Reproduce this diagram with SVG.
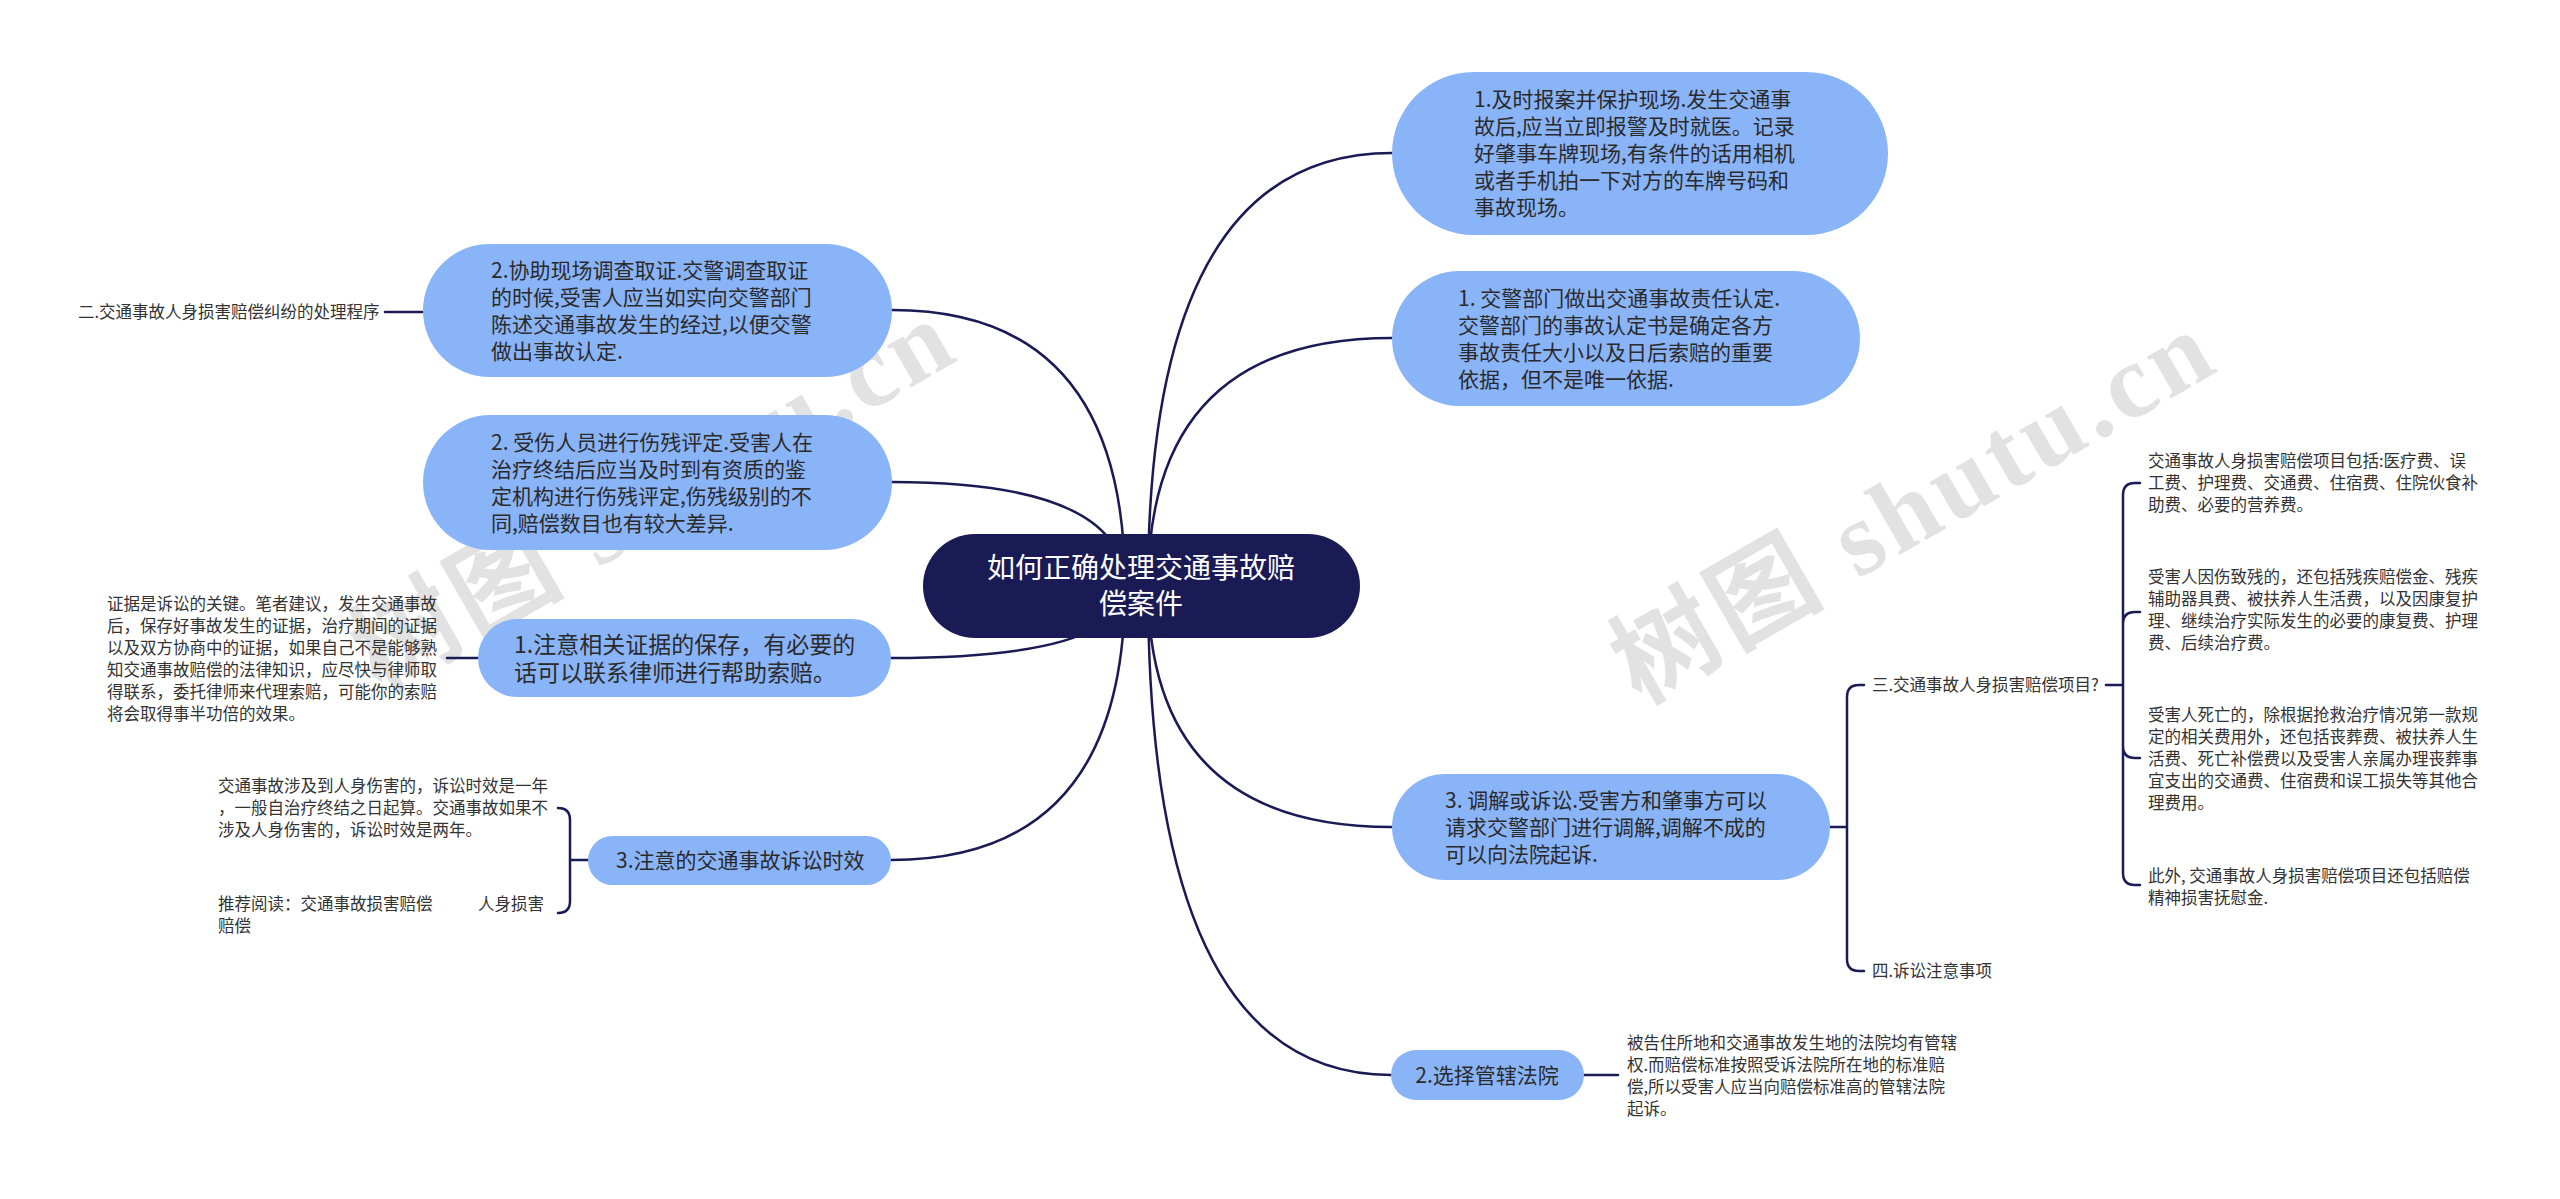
<svg xmlns="http://www.w3.org/2000/svg" width="2560" height="1199" viewBox="0 0 2560 1199">
<style>
.bg{fill:#ffffff}
.wm{font-family:"Liberation Serif","Noto Sans CJK SC",serif;font-weight:bold;font-size:105px;fill:#e2e2e2;letter-spacing:5px}
.root{fill:#1a1a54}
.node{fill:#8ab4f8}
.rt{font-family:"Noto Sans CJK SC","Noto Sans",sans-serif;font-size:28px;fill:#ffffff}
.nt{font-family:"Noto Sans CJK SC","Noto Sans",sans-serif;font-size:21px;fill:#2a2a2a}
.nt23{font-family:"Noto Sans CJK SC","Noto Sans",sans-serif;font-size:23px;fill:#2a2a2a}
.st{font-family:"Noto Sans CJK SC","Noto Sans",sans-serif;font-size:16.5px;fill:#333333}
.ln{fill:none;stroke:#1a1a54;stroke-width:2.5;stroke-linecap:round}
</style>
<rect class="bg" x="0" y="0" width="2560" height="1199"/>
<g id="watermarks">
<text class="wm" transform="translate(380,694) rotate(-30)">树图 shutu.cn</text>
<text class="wm" transform="translate(1640,705) rotate(-30)">树图 shutu.cn</text>
</g>
<g id="connectors">
<path class="ln" d="M1148 586 Q1148 153 1392 153"/>
<path class="ln" d="M1148 586 Q1148 338 1392 338"/>
<path class="ln" d="M1148 586 Q1148 827 1392 827"/>
<path class="ln" d="M1148 586 Q1148 1075 1391 1075"/>
<path class="ln" d="M1125 586 Q1125 310 892 310"/>
<path class="ln" d="M1125 586 Q1125 482 892 482"/>
<path class="ln" d="M1125 586 Q1125 658 891 658"/>
<path class="ln" d="M1125 586 Q1125 860 891 860"/>
<path class="ln" d="M385 312 L423 312"/>
<path class="ln" d="M447 658 L478 658"/>
<path class="ln" d="M588 860 L570 860 M570 860 L570 820 Q570 808 558 808 M570 860 L570 901 Q570 913 558 913"/>
<path class="ln" d="M1830 827 L1847 827 M1847 827 L1847 697 Q1847 685 1859 685 L1864 685 M1847 827 L1847 959 Q1847 971 1859 971 L1864 971"/>
<path class="ln" d="M2106 685 L2123 685 M2123 685 L2123 495 Q2123 483 2135 483 L2140 483 M2123 685 L2123 624 Q2123 612 2135 612 L2140 612 M2123 685 L2123 746 Q2123 758 2135 758 L2140 758 M2123 685 L2123 873 Q2123 885 2135 885 L2140 885"/>
<path class="ln" d="M1584 1075 L1618 1075"/>
</g>
<g id="root">
<rect class="root" x="923" y="534" width="437" height="104" rx="52"/>
<text class="rt" text-anchor="middle"><tspan x="1141" y="578">如何正确处理交通事故赔</tspan><tspan x="1141" y="614">偿案件</tspan></text>
</g>
<g id="r1">
<rect class="node" x="1392" y="72" width="496" height="163" rx="81.5"/>
<text class="nt"><tspan x="1474" y="107">1.及时报案并保护现场.发生交通事</tspan><tspan x="1474" y="134">故后,应当立即报警及时就医。记录</tspan><tspan x="1474" y="161">好肇事车牌现场,有条件的话用相机</tspan><tspan x="1474" y="188">或者手机拍一下对方的车牌号码和</tspan><tspan x="1474" y="215">事故现场。</tspan></text>
</g>
<g id="r2">
<rect class="node" x="1392" y="271" width="468" height="135" rx="67.5"/>
<text class="nt"><tspan x="1458" y="306">1. 交警部门做出交通事故责任认定.</tspan><tspan x="1458" y="333">交警部门的事故认定书是确定各方</tspan><tspan x="1458" y="360">事故责任大小以及日后索赔的重要</tspan><tspan x="1458" y="387">依据，但不是唯一依据.</tspan></text>
</g>
<g id="r3">
<rect class="node" x="1392" y="774" width="438" height="106" rx="53"/>
<text class="nt"><tspan x="1445" y="808">3. 调解或诉讼.受害方和肇事方可以</tspan><tspan x="1445" y="835">请求交警部门进行调解,调解不成的</tspan><tspan x="1445" y="862">可以向法院起诉.</tspan></text>
</g>
<g id="r4">
<rect class="node" x="1391" y="1050" width="193" height="50" rx="25"/>
<text class="nt" x="1487" y="1083" text-anchor="middle">2.选择管辖法院</text>
</g>
<g id="l1">
<rect class="node" x="423" y="244" width="469" height="133" rx="66.5"/>
<text class="nt"><tspan x="491" y="278">2.协助现场调查取证.交警调查取证</tspan><tspan x="491" y="305">的时候,受害人应当如实向交警部门</tspan><tspan x="491" y="332">陈述交通事故发生的经过,以便交警</tspan><tspan x="491" y="359">做出事故认定.</tspan></text>
</g>
<g id="l2">
<rect class="node" x="423" y="415" width="469" height="135" rx="67.5"/>
<text class="nt"><tspan x="491" y="450">2. 受伤人员进行伤残评定.受害人在</tspan><tspan x="491" y="477">治疗终结后应当及时到有资质的鉴</tspan><tspan x="491" y="504">定机构进行伤残评定,伤残级别的不</tspan><tspan x="491" y="531">同,赔偿数目也有较大差异.</tspan></text>
</g>
<g id="l3">
<rect class="node" x="478" y="619" width="413" height="78" rx="39"/>
<text class="nt23"><tspan x="514" y="653">1.注意相关证据的保存，有必要的</tspan><tspan x="514" y="681">话可以联系律师进行帮助索赔。</tspan></text>
</g>
<g id="l4">
<rect class="node" x="588" y="836" width="303" height="49" rx="24.5"/>
<text class="nt" x="616" y="868">3.注意的交通事故诉讼时效</text>
</g>
<g id="t-procedure">
<text class="st" x="78" y="318">二.交通事故人身损害赔偿纠纷的处理程序</text>
</g>
<g id="t-evidence">
<text class="st"><tspan x="107" y="610">证据是诉讼的关键。笔者建议，发生交通事故</tspan><tspan x="107" y="632">后，保存好事故发生的证据，治疗期间的证据</tspan><tspan x="107" y="654">以及双方协商中的证据，如果自己不是能够熟</tspan><tspan x="107" y="676">知交通事故赔偿的法律知识，应尽快与律师取</tspan><tspan x="107" y="698">得联系，委托律师来代理索赔，可能你的索赔</tspan><tspan x="107" y="720">将会取得事半功倍的效果。</tspan></text>
</g>
<g id="t-limit1">
<text class="st"><tspan x="218" y="792">交通事故涉及到人身伤害的，诉讼时效是一年</tspan><tspan x="218" y="814">，一般自治疗终结之日起算。交通事故如果不</tspan><tspan x="218" y="836">涉及人身伤害的，诉讼时效是两年。</tspan></text>
</g>
<g id="t-limit2">
<text class="st"><tspan x="218" y="910">推荐阅读：交通事故损害赔偿</tspan><tspan x="478" y="910">人身损害</tspan><tspan x="218" y="932">赔偿</tspan></text>
</g>
<g id="t-court">
<text class="st"><tspan x="1627" y="1049">被告住所地和交通事故发生地的法院均有管辖</tspan><tspan x="1627" y="1071">权.而赔偿标准按照受诉法院所在地的标准赔</tspan><tspan x="1627" y="1093">偿,所以受害人应当向赔偿标准高的管辖法院</tspan><tspan x="1627" y="1115">起诉。</tspan></text>
</g>
<g id="t-items">
<text class="st" x="1872" y="691">三.交通事故人身损害赔偿项目?</text>
</g>
<g id="t-notes">
<text class="st" x="1872" y="977">四.诉讼注意事项</text>
</g>
<g id="t-item1">
<text class="st"><tspan x="2148" y="467">交通事故人身损害赔偿项目包括:医疗费、误</tspan><tspan x="2148" y="489">工费、护理费、交通费、住宿费、住院伙食补</tspan><tspan x="2148" y="511">助费、必要的营养费。</tspan></text>
</g>
<g id="t-item2">
<text class="st"><tspan x="2148" y="583">受害人因伤致残的，还包括残疾赔偿金、残疾</tspan><tspan x="2148" y="605">辅助器具费、被扶养人生活费，以及因康复护</tspan><tspan x="2148" y="627">理、继续治疗实际发生的必要的康复费、护理</tspan><tspan x="2148" y="649">费、后续治疗费。</tspan></text>
</g>
<g id="t-item3">
<text class="st"><tspan x="2148" y="721">受害人死亡的，除根据抢救治疗情况第一款规</tspan><tspan x="2148" y="743">定的相关费用外，还包括丧葬费、被扶养人生</tspan><tspan x="2148" y="765">活费、死亡补偿费以及受害人亲属办理丧葬事</tspan><tspan x="2148" y="787">宜支出的交通费、住宿费和误工损失等其他合</tspan><tspan x="2148" y="809">理费用。</tspan></text>
</g>
<g id="t-item4">
<text class="st"><tspan x="2148" y="882">此外, 交通事故人身损害赔偿项目还包括赔偿</tspan><tspan x="2148" y="904">精神损害抚慰金.</tspan></text>
</g>
</svg>
